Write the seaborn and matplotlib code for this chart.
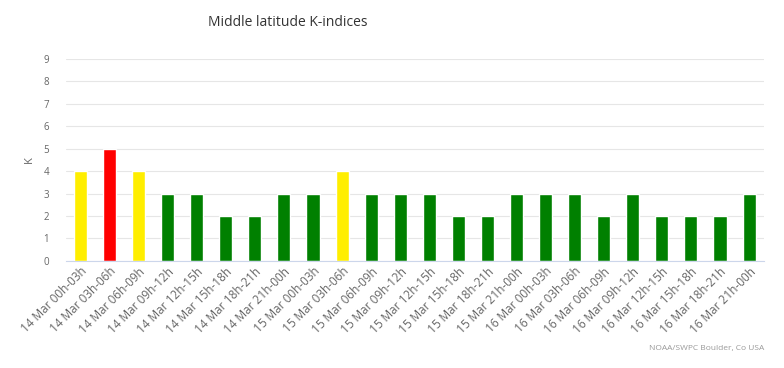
import matplotlib
matplotlib.use("Agg")
import matplotlib.pyplot as plt
import seaborn as sns
import pandas as pd

periods = [
    "14 Mar 00h-03h", "14 Mar 03h-06h", "14 Mar 06h-09h", "14 Mar 09h-12h",
    "14 Mar 12h-15h", "14 Mar 15h-18h", "14 Mar 18h-21h", "14 Mar 21h-00h",
    "15 Mar 00h-03h", "15 Mar 03h-06h", "15 Mar 06h-09h", "15 Mar 09h-12h",
    "15 Mar 12h-15h", "15 Mar 15h-18h", "15 Mar 18h-21h", "15 Mar 21h-00h",
    "16 Mar 00h-03h", "16 Mar 03h-06h", "16 Mar 06h-09h", "16 Mar 09h-12h",
    "16 Mar 12h-15h", "16 Mar 15h-18h", "16 Mar 18h-21h", "16 Mar 21h-00h",
]
k_values = [4, 5, 4, 3, 3, 2, 2, 3, 3, 4, 3, 3, 3, 2, 2, 3, 3, 3, 2, 3, 2, 2, 2, 3]


def k_color(k):
    if k >= 5:
        return "#ff0000"
    if k == 4:
        return "#ffee00"
    return "#008000"


df = pd.DataFrame({"period": periods, "K": k_values})

sns.set_style("white")
plt.rcParams['font.family'] = ['Open Sans', 'DejaVu Sans']

fig = plt.figure(figsize=(7.84, 3.68), dpi=100)
ax = fig.add_axes([0.084, 0.291, 0.890, 0.549])

sns.barplot(data=df, x="period", y="K", hue="period",
            palette=[k_color(k) for k in k_values], legend=False,
            width=0.45, saturation=1, ax=ax)

ax.set_ylim(0, 9)
ax.set_yticks(range(10))
ax.set_xlim(-0.5, len(periods) - 0.5)
ax.grid(axis="y", color="#e6e6e6", linewidth=0.8)
ax.set_axisbelow(True)
for s in ["top", "right", "left"]:
    ax.spines[s].set_visible(False)
ax.spines["bottom"].set_color("#ccd6eb")
ax.tick_params(axis="y", length=0, labelsize=7, labelcolor="#666666", pad=12)
ax.tick_params(axis="x", length=0, labelsize=8.5, labelcolor="#666666", pad=3)
plt.setp(ax.get_xticklabels(), rotation=45, ha="right", rotation_mode="anchor")
ax.set_xlabel("")
ax.set_ylabel("K", fontsize=8, color="#666666", labelpad=6)

fig.text(0.265, 0.94, "Middle latitude K-indices", fontsize=10, color="#333333",
         ha="left", va="center")
fig.text(0.975, 0.053, "NOAA/SWPC Boulder, Co USA", fontsize=6, color="#999999",
         ha="right", va="center")

fig.savefig("out.png", dpi=100)
